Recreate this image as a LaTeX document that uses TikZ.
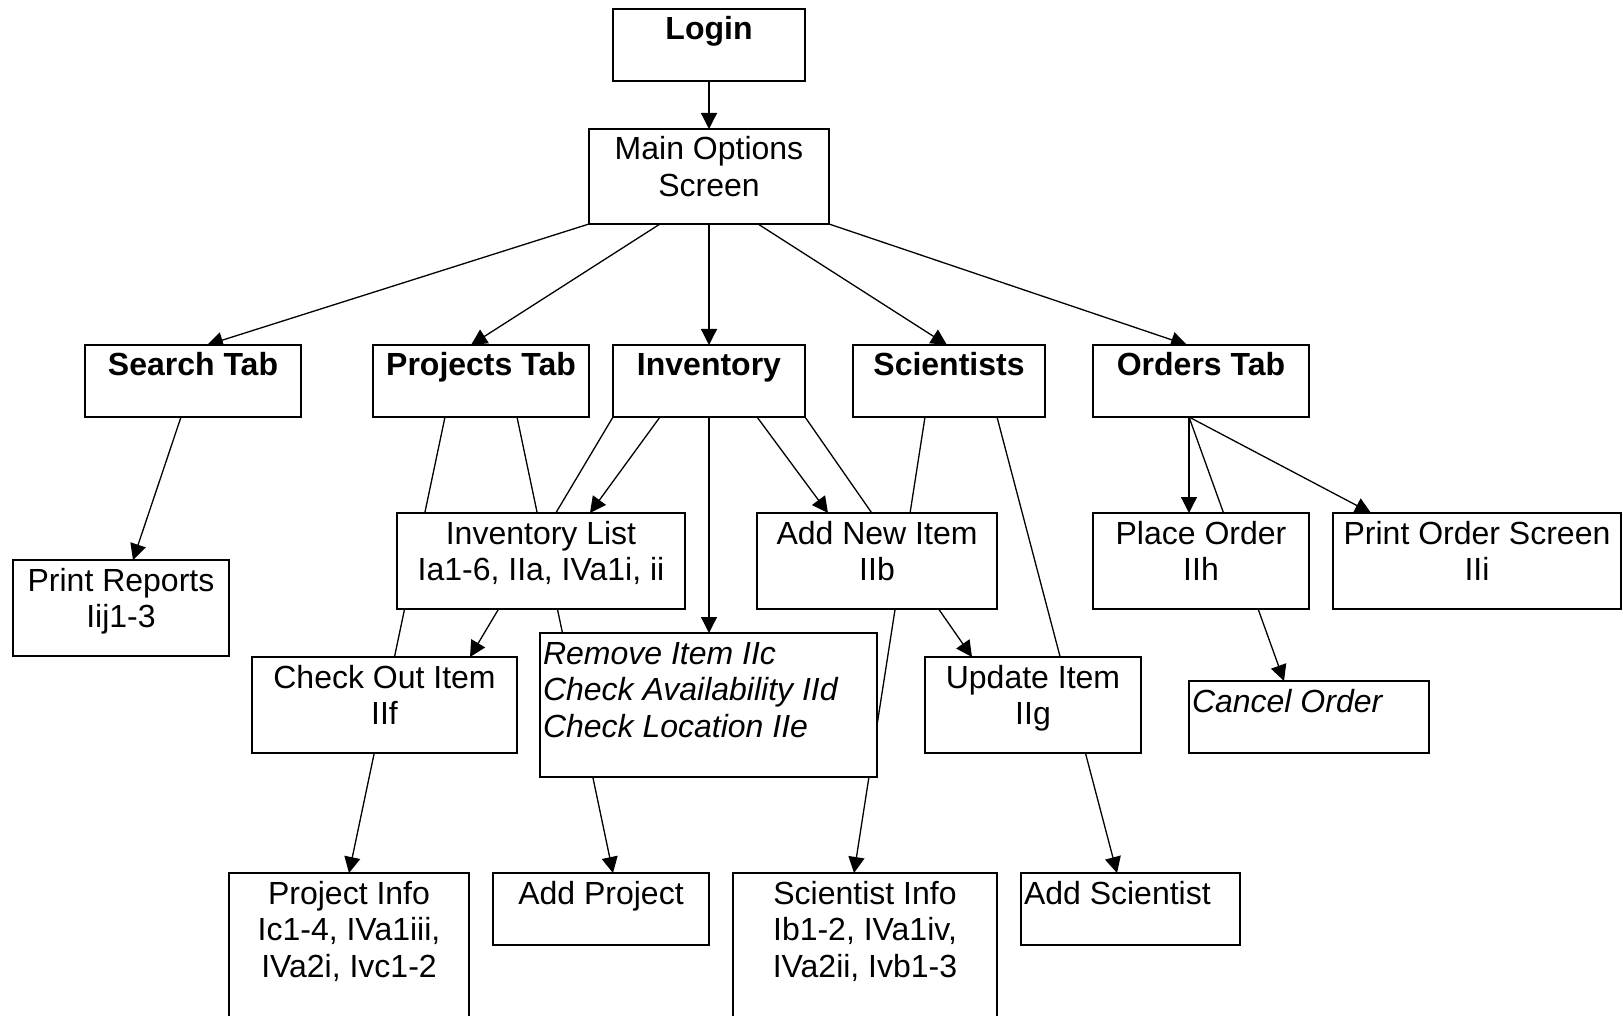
\documentclass[tikz,border=0pt]{standalone}
\usepackage{fontspec}
\setmainfont{Liberation Sans}
\usetikzlibrary{arrows.meta,calc}
\pgfdeclarelayer{background}
\pgfsetlayers{background,main}
\newcommand\flowbox[7]{%
  \pgfmathsetmacro\bw{(#4-#2)/2}%
  \pgfmathsetmacro\bh{(#5-#3)/2}%
  \node[box, anchor=north west] (#1) at (#2,#3) {\parbox[t][\bh pt][t]{\bw pt}{#6\rule{0pt}{15.5pt}#7}};%
}
\tikzset{
  box/.style={draw, fill=white, line width=0.85pt, inner sep=0pt, outer sep=0pt,
    font=\fontsize{16}{18.3}\selectfont},
  conn/.style={line width=0.65pt},
  arr/.style={conn, -{Triangle[length=8pt,width=8pt]}}
}
\begin{document}
\begin{tikzpicture}[x=0.5pt,y=-0.5pt]
\useasboundingbox (0,0) rectangle (1623,1016);
\clip (0,0) rectangle (1623,1016);
% boxes
\flowbox{login}{613}{9}{805}{81}{\bfseries\centering}{Login}
\flowbox{main}{589}{129}{829}{224}{\centering}{Main Options\\Screen}
\flowbox{search}{85}{345}{301}{417}{\bfseries\centering}{Search Tab}
\flowbox{proj}{373}{345}{589}{417}{\bfseries\centering}{Projects Tab}
\flowbox{inv}{613}{345}{805}{417}{\bfseries\centering}{Inventory}
\flowbox{sci}{853}{345}{1045}{417}{\bfseries\centering}{Scientists}
\flowbox{orders}{1093}{345}{1309}{417}{\bfseries\centering}{Orders Tab}
\flowbox{prep}{13}{560}{229}{656}{\centering}{Print Reports\\Iij1-3}
\flowbox{invlist}{397}{513}{685}{609}{\centering}{Inventory List\\Ia1-6, IIa, IVa1i, ii}
\flowbox{addnew}{757}{513}{997}{609}{\centering}{Add New Item\\IIb}
\flowbox{place}{1093}{513}{1309}{609}{\centering}{Place Order\\IIh}
\flowbox{porder}{1333}{513}{1621}{609}{\centering}{Print Order Screen\\IIi}
\flowbox{checkout}{252}{657}{517}{753}{\centering}{Check Out Item\\IIf}
\flowbox{remove}{540}{633}{877}{777}{\itshape\raggedright\leftskip=1.5pt}{Remove Item IIc\\Check Availability IId\\Check Location IIe}
\flowbox{update}{925}{657}{1141}{753}{\centering}{Update Item\\IIg}
\flowbox{cancel}{1189}{681}{1429}{753}{\itshape\raggedright\leftskip=1.5pt}{Cancel Order}
\flowbox{pinfo}{229}{873}{469}{1040}{\centering}{Project Info\\Ic1-4, IVa1iii,\\IVa2i, Ivc1-2}
\flowbox{addproj}{493}{873}{709}{945}{\centering}{Add Project}
\flowbox{sinfo}{733}{873}{997}{1040}{\centering}{Scientist Info\\Ib1-2, IVa1iv,\\IVa2ii, Ivb1-3}
\flowbox{addsci}{1021}{873}{1240}{945}{\raggedright\leftskip=1.5pt}{Add Scientist}
% connectors
\begin{pgfonlayer}{background}
\draw[arr] (login.south) -- (main.north);
\draw[arr] (main.south west) -- ($(search.north west)+(122,0)$);
\draw[arr] ($(main.south west)+(71,0)$) -- ($(proj.north west)+(98,0)$);
\draw[arr] (main.south) -- (inv.north);
\draw[arr] ($(main.south west)+(169,0)$) -- ($(sci.north west)+(94,0)$);
\draw[arr] (main.south east) -- ($(orders.north west)+(94,0)$);
\draw[arr] ($(search.south west)+(96,0)$) -- ($(prep.north west)+(120,0)$);
\draw[arr] ($(proj.south west)+(72,0)$) -- ($(pinfo.north west)+(120,0)$);
\draw[arr] ($(proj.south west)+(144,0)$) -- ($(addproj.north west)+(120,0)$);
\draw[arr] (inv.south west) -- ($(checkout.north west)+(218,0)$);
\draw[arr] ($(inv.south west)+(47,0)$) -- ($(invlist.north west)+(193,0)$);
\draw[arr] (inv.south) -- (inv.south |- remove.north);
\draw[arr] ($(inv.south west)+(144,0)$) -- ($(addnew.north west)+(71,0)$);
\draw[arr] (inv.south east) -- ($(update.north west)+(47,0)$);
\draw[arr] ($(sci.south west)+(72,0)$) -- ($(sinfo.north west)+(121,0)$);
\draw[arr] ($(sci.south west)+(144,0)$) -- ($(addsci.north west)+(96,0)$);
\coordinate (ostart) at ($(orders.south west)+(96,0)$);
\draw[arr] (ostart) -- (ostart |- place.north);
\draw[arr] (ostart) -- ($(cancel.north west)+(95,0)$);
\draw[arr] (ostart) -- ($(porder.north west)+(38,0)$);
\end{pgfonlayer}
\end{tikzpicture}
\end{document}
